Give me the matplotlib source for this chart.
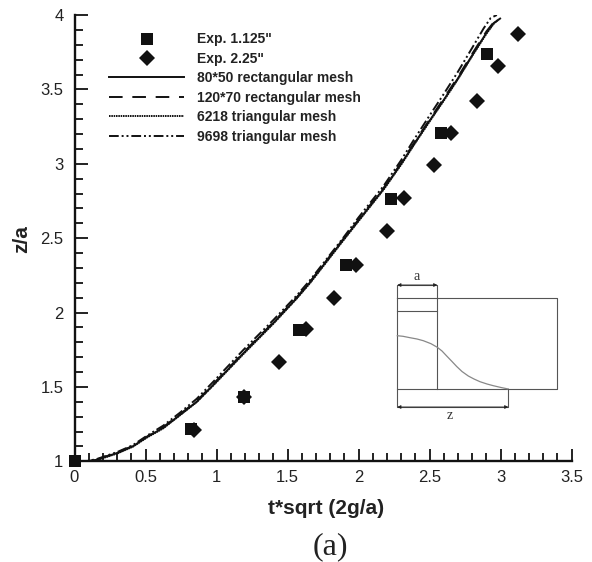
import matplotlib
matplotlib.use("Agg")
import matplotlib.pyplot as plt
from matplotlib.ticker import MultipleLocator, FuncFormatter

W, H = 592, 562
plt.rcParams['font.family'] = ['Liberation Sans', 'DejaVu Sans']

# --- data ---
exp1_t = [0, 0.82, 1.19, 1.58, 1.91, 2.23, 2.58, 2.905]
exp1_z = [1, 1.22, 1.43, 1.885, 2.32, 2.765, 3.21, 3.74]
exp2_t = [0.84, 1.19, 1.44, 1.63, 1.83, 1.98, 2.20, 2.32, 2.53, 2.65, 2.83, 2.98, 3.12]
exp2_z = [1.21, 1.43, 1.665, 1.89, 2.10, 2.32, 2.55, 2.77, 2.99, 3.21, 3.42, 3.66, 3.87]

rect80_t = [0, 0.08, 0.156, 0.30, 0.41, 0.51, 0.625, 0.74, 0.86, 0.977, 1.19, 1.40, 1.565, 1.66, 1.89, 2.0, 2.175, 2.3, 2.385, 2.50, 2.60, 2.70, 2.80, 2.90, 2.95, 2.996]
rect80_z = [1, 1.0, 1.01, 1.056, 1.10, 1.163, 1.225, 1.31, 1.40, 1.514, 1.727, 1.93, 2.098, 2.205, 2.487, 2.62, 2.83, 3.0, 3.125, 3.29, 3.43, 3.575, 3.73, 3.88, 3.945, 3.976]
rect120_t = [0, 0.08, 0.156, 0.30, 0.41, 0.51, 0.625, 0.74, 0.86, 0.977, 1.19, 1.40, 1.565, 1.66, 1.89, 2.0, 2.175, 2.3, 2.385, 2.50, 2.60, 2.70, 2.80, 2.90, 2.95, 2.99]
rect120_z = [1, 1.0, 1.012, 1.058, 1.103, 1.166, 1.23, 1.315, 1.405, 1.52, 1.732, 1.935, 2.103, 2.21, 2.492, 2.625, 2.836, 3.006, 3.132, 3.298, 3.44, 3.585, 3.74, 3.89, 3.95, 3.98]
tri6218_t = [0, 0.08, 0.156, 0.30, 0.41, 0.51, 0.625, 0.74, 0.86, 0.977, 1.19, 1.40, 1.565, 1.66, 1.89, 2.0, 2.175, 2.3, 2.385, 2.50, 2.60, 2.70, 2.80, 2.90, 2.95, 2.985]
tri6218_z = [1, 1.0, 1.008, 1.052, 1.098, 1.16, 1.222, 1.308, 1.398, 1.51, 1.722, 1.925, 2.095, 2.20, 2.482, 2.615, 2.825, 2.995, 3.12, 3.285, 3.425, 3.57, 3.725, 3.875, 3.94, 3.97]
tri9698_t = [0, 0.08, 0.156, 0.30, 0.41, 0.51, 0.625, 0.74, 0.86, 0.977, 1.19, 1.40, 1.565, 1.66, 1.89, 2.0, 2.175, 2.3, 2.385, 2.50, 2.60, 2.70, 2.80, 2.88, 2.93, 2.973]
tri9698_z = [1, 1.0, 1.015, 1.062, 1.108, 1.172, 1.24, 1.325, 1.42, 1.535, 1.75, 1.95, 2.115, 2.22, 2.50, 2.64, 2.85, 3.025, 3.155, 3.325, 3.47, 3.62, 3.78, 3.91, 3.98, 4.0]

labels = ['Exp. 1.125"', 'Exp. 2.25"', '80*50 rectangular mesh', '120*70 rectangular mesh',
          '6218 triangular mesh', '9698 triangular mesh']

# inset schematic, in its own panel units
panel_box_x = [397.3, 556.7, 556.7, 397.3, 397.3]
panel_box_y = [298.3, 298.3, 389, 389, 298.3]
panel_wall_x = [437.3, 437.3]
panel_wall_y = [298.3, 389]
panel_col_x = [397.3, 397.3, 437.3, 437.3]
panel_col_y = [298.3, 285, 285, 298.3]
panel_lev_x = [397.3, 437.3]
panel_lev_y = [311, 311]
panel_curve_x = [397.3, 403, 410, 417, 423.3, 431, 437.3, 442, 446.7, 452, 456.7, 462, 468.3, 474, 480, 487, 493.3, 501, 508.3]
panel_curve_y = [335.7, 336.3, 337.7, 339, 340.7, 343.7, 347.3, 351, 356, 361.5, 366.5, 371.5, 376, 379, 381.7, 384, 385.7, 387.5, 389]
panel_z_x = [397.3, 397.3, 508.3, 508.3]
panel_z_y = [389, 407, 407, 389]

# --- figure ---
fig = plt.figure(figsize=(W / 100, H / 100), dpi=100)
L, R, T, B = 74.5, 571.7, 15, 461.3
ax = fig.add_axes([L / W, 1 - B / H, (R - L) / W, (B - T) / H])
ax.set_xlim(0, 3.5)
ax.set_ylim(1, 4)
for s in ('top', 'right'):
    ax.spines[s].set_visible(False)
for s in ('left', 'bottom'):
    ax.spines[s].set_linewidth(1.7)
    ax.spines[s].set_color('#111111')

fmt = FuncFormatter(lambda v, p: f'{v:g}')
ax.xaxis.set_major_locator(MultipleLocator(0.5))
ax.xaxis.set_minor_locator(MultipleLocator(0.1))
ax.yaxis.set_major_locator(MultipleLocator(0.5))
ax.yaxis.set_minor_locator(MultipleLocator(0.1))
ax.xaxis.set_major_formatter(fmt)
ax.yaxis.set_major_formatter(fmt)
ax.tick_params(which='major', direction='in', length=9, width=1.3, color='#111111',
               labelsize=12, labelcolor='#222222')
ax.tick_params(which='minor', direction='in', length=5.5, width=1.3, color='#111111')
ax.tick_params(axis='x', which='major', pad=6)
ax.tick_params(axis='y', which='major', pad=8)
ax.figure.canvas.draw()
ax.xaxis.get_major_ticks()[-1].set_pad(4)

c = '#111111'
ax.plot(exp1_t, exp1_z, ls='none', marker='s', ms=8.6, mfc=c, mec=c, mew=0, clip_on=False, zorder=5, label=labels[0])
ax.plot(exp2_t, exp2_z, ls='none', marker='D', ms=8.1, mfc=c, mec=c, mew=0, clip_on=False, zorder=5, label=labels[1])
ax.plot(rect80_t, rect80_z, color=c, lw=1.4, ls='-', label=labels[2])
ax.plot(rect120_t, rect120_z, color=c, lw=1.4, ls=(0, (7, 5)), label=labels[3])
ax.plot(tri6218_t, tri6218_z, color=c, lw=1.4, ls=(0, (0.8, 0.4)), label=labels[4])
ax.plot(tri9698_t, tri9698_z, color=c, lw=1.4, ls=(0, (5, 1.5, 1, 1.5, 1, 1.5)), label=labels[5])

leg = ax.legend(loc='upper left', bbox_to_anchor=(109 / W, 1 - 32.5 / H), bbox_transform=fig.transFigure,
                frameon=False, borderpad=0, borderaxespad=0, handlelength=5.4, handletextpad=0.94,
                labelspacing=0.39, numpoints=1, prop={'weight': 'bold', 'size': 10})
for t in leg.get_texts():
    t.set_color('#222222')

ax.text(326 / W, 1 - 509 / H, 't*sqrt (2g/a)', transform=fig.transFigure, ha='center', va='center',
        fontsize=15, fontweight='bold', color='#222222')
ax.text(22 / W, 1 - 238.7 / H, 'z/a', transform=fig.transFigure, ha='center', va='center', rotation=90,
        fontsize=15, fontweight='bold', color='#222222')
ax.text(330 / W, 1 - 547 / H, '(a)', transform=fig.transFigure, ha='center', va='center',
        fontsize=23, family=['Liberation Serif'], color='#222222')

# inset panel with pixel-like units
ins = fig.add_axes([380 / W, 1 - 425 / H, 190 / W, 155 / H])
ins.set_xlim(380, 570)
ins.set_ylim(425, 270)
ins.axis('off')
g = '#555555'
ins.plot(panel_box_x, panel_box_y, color=g, lw=0.8)
ins.plot(panel_wall_x, panel_wall_y, color=g, lw=0.8)
ins.plot(panel_col_x, panel_col_y, color=g, lw=0.8)
ins.plot(panel_lev_x, panel_lev_y, color=g, lw=0.8)
ins.plot(panel_curve_x, panel_curve_y, color='#888888', lw=0.9)
ins.plot(panel_z_x, panel_z_y, color=g, lw=0.8)
ins.annotate('', xy=(397.3, 285), xytext=(437.3, 285), arrowprops=dict(arrowstyle='<|-|>', color='#222222', lw=0.6, mutation_scale=5, shrinkA=0, shrinkB=0))
ins.annotate('', xy=(397.3, 407), xytext=(508.3, 407), arrowprops=dict(arrowstyle='<|-|>', color='#222222', lw=0.6, mutation_scale=5, shrinkA=0, shrinkB=0))
ins.text(416.7, 276.5, 'a', ha='center', va='center', fontsize=10, family=['Liberation Serif'], color='#333333')
ins.text(450, 415.5, 'z', ha='center', va='center', fontsize=10, family=['Liberation Serif'], color='#333333')

fig.savefig('out.png', dpi=100)
